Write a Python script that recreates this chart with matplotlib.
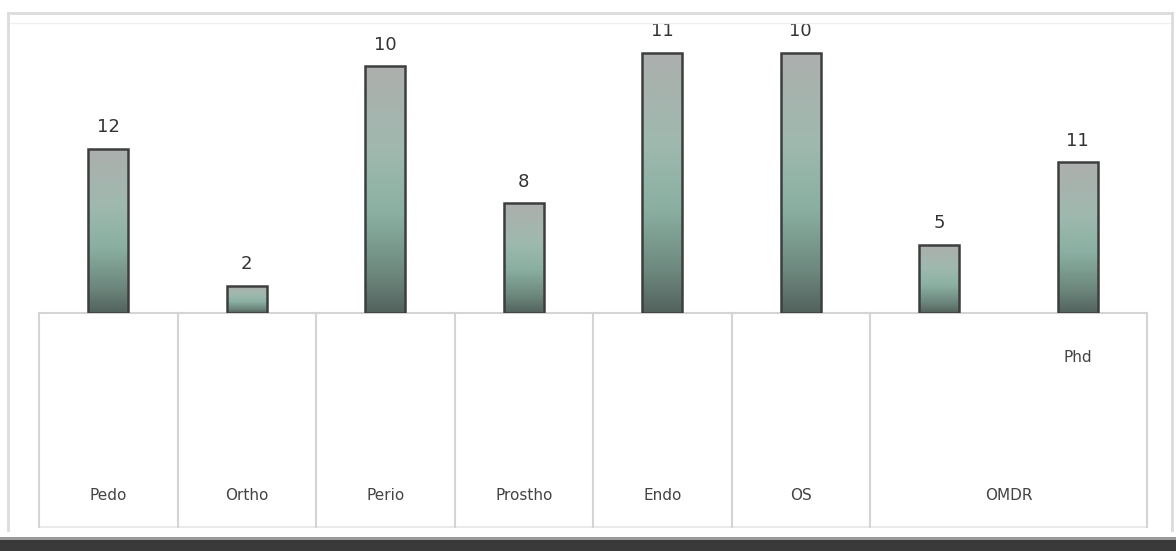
import numpy as np
import matplotlib
matplotlib.use('Agg')
import matplotlib.pyplot as plt
from matplotlib.colors import LinearSegmentedColormap
from matplotlib.patches import Rectangle
from matplotlib.lines import Line2D

# categorias e valores
categories = ['Pedo', 'Ortho', 'Perio', 'Prostho', 'Endo', 'OS', 'OMDR', 'Phd']
bar_heights = [12, 2, 18, 8, 19, 19, 5, 11]
bar_labels = ['12', '2', '10', '8', '11', '10', '5', '11']
group_labels = ['Pedo', 'Ortho', 'Perio', 'Prostho', 'Endo', 'OS', 'OMDR']
group_spans = [(0, 0), (1, 1), (2, 2), (3, 3), (4, 4), (5, 5), (6, 7)]
inner_labels = ['', '', '', '', '', '', '', 'Phd']

W, H = 1176, 551
fig = plt.figure(figsize=(W / 100, H / 100), dpi=100)
fig.patch.set_facecolor('white')

ax = fig.add_axes([39 / W, 1 - 313 / H, (1147 - 39) / W, 300 / H])
ax.set_facecolor('none')

x = np.arange(len(categories))
bars = ax.bar(x, bar_heights, width=0.29, color='none', edgecolor='#3c3f3d',
              linewidth=1.8, zorder=3)

grad_cmap = LinearSegmentedColormap.from_list(
    'g', [(0.0, '#adafad'), (0.35, '#9fb9af'), (0.6, '#8ab0a2'),
          (0.85, '#6c867c'), (1.0, '#52625c')])
grad = np.linspace(0, 1, 256).reshape(-1, 1)
for b in bars:
    im = ax.imshow(grad, cmap=grad_cmap, aspect='auto', zorder=2,
                   extent=[b.get_x(), b.get_x() + b.get_width(), 0, b.get_height()],
                   origin='upper')
    im.set_clip_path(b)

for b, lab in zip(bars, bar_labels):
    ax.annotate(lab, (b.get_x() + b.get_width() / 2, b.get_height()),
                xytext=(0, 9), textcoords='offset points', ha='center', va='bottom',
                fontsize=13, color='#333333')

ax.set_xlim(-0.5, len(categories) - 0.5)
ax.set_ylim(0, 300 / 13.7)
ax.set_xticks([])
ax.set_yticks([])
for s in ax.spines.values():
    s.set_visible(False)

# tabela de categorias abaixo do eixo
tr = ax.get_xaxis_transform()
grid_c = '#d4d4d4'
table_bottom = (313 - 527) / 300
ax.plot([-0.5, len(categories) - 0.5], [0, 0], transform=tr, color=grid_c,
        lw=1.5, clip_on=False, zorder=1)
ax.plot([-0.5, len(categories) - 0.5], [table_bottom, table_bottom], transform=tr,
        color='#e6e6e6', lw=1.2, clip_on=False)
edges = sorted({s[0] - 0.5 for s in group_spans} | {group_spans[-1][1] + 0.5})
for e in edges:
    ax.plot([e, e], [0, table_bottom], transform=tr, color=grid_c, lw=1.5, clip_on=False)

for lab, (a, b) in zip(group_labels, group_spans):
    ax.text((a + b) / 2, (313 - 495) / 300, lab, transform=tr, ha='center', va='center',
            fontsize=11, color='#444444')
for i, lab in enumerate(inner_labels):
    if lab:
        ax.text(i, (313 - 357) / 300, lab, transform=tr, ha='center', va='center',
                fontsize=11, color='#444444')

# moldura do grafico
fc = '#dcdcdc'
fig.add_artist(Line2D([8 / W, 1172 / W], [1 - 13 / H, 1 - 13 / H], color=fc, lw=2))
fig.add_artist(Line2D([8 / W, 1172 / W], [1 - 23 / H, 1 - 23 / H], color='#f0f0f0', lw=1))
fig.add_artist(Line2D([8 / W, 8 / W], [1 - 13 / H, 1 - 530 / H], color=fc, lw=2))
fig.add_artist(Line2D([1172 / W, 1172 / W], [1 - 13 / H, 1 - 530 / H], color=fc, lw=2))
fig.add_artist(Rectangle((0, 0), 1, 11 / H, transform=fig.transFigure,
                         facecolor='#3a3a3a', edgecolor='none'))
fig.add_artist(Rectangle((0, 11 / H), 1, 3 / H, transform=fig.transFigure,
                         facecolor='#9a9a9a', edgecolor='none'))

fig.savefig('out.png', dpi=100)
